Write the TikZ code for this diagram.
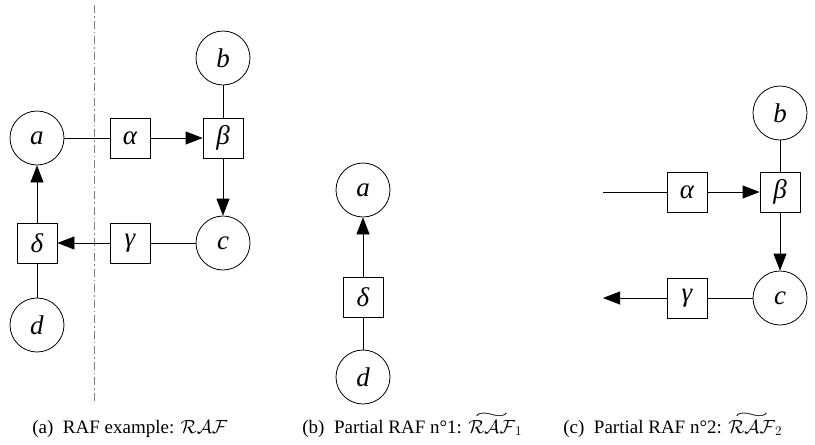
\RequirePackage{fix-cm}
\documentclass[tikz,border=0pt]{standalone}
\usepackage{fontspec}
\setmainfont{Liberation Serif}
\usetikzlibrary{arrows.meta}
\newcommand\widetil[1]{\mathord{\mathop{#1}\limits^{\raisebox{-0.45ex}{\scalebox{3.4}[1.1]{$\scriptstyle\sim$}}}}}
\begin{document}
\begin{tikzpicture}[x=1pt,y=-1pt,
  line width=0.8pt,
  spec/.style={circle,draw,minimum size=54pt,inner sep=0pt,font=\fontsize{27}{30}\selectfont\itshape},
  reac/.style={rectangle,draw,minimum size=40pt,inner sep=0pt,font=\fontsize{27}{30}\selectfont\itshape},
  link/.style={draw},
  arr/.style={draw,-{Triangle[length=17pt,width=13pt]}},
  captext/.style={anchor=base west,inner sep=0pt,font=\fontsize{19}{22}\selectfont},
  sepline/.style={draw=gray,line width=0.8pt,dash pattern=on 8pt off 3pt on 1.5pt off 3pt}]
\useasboundingbox (0,0) rectangle (815,445);
% separator
\coordinate (s1) at (94,5);
\coordinate (s2) at (94,403);
\draw[sepline] (s1) -- (s2);
% panel (a)
\node[spec] (a1) at (37,138) {a};
\node[spec] (b1) at (223,58) {b};
\node[spec] (c1) at (223,243) {c};
\node[spec] (d1) at (37,325) {d};
\node[reac] (al1) at (130,138) {α};
\node[reac] (be1) at (223,138) {β};
\node[reac] (ga1) at (130,243) {γ};
\node[reac] (de1) at (37,243) {δ};
\draw[link] (a1) -- (al1);
\draw[arr] (al1) -- (be1);
\draw[link] (b1) -- (be1);
\draw[arr] (be1) -- (c1);
\draw[link] (c1) -- (ga1);
\draw[arr] (ga1) -- (de1);
\draw[arr] (de1) -- (a1);
\draw[link] (d1) -- (de1);
% panel (b)
\node[spec] (a2) at (363,190) {a};
\node[reac] (de2) at (363,297) {δ};
\node[spec] (d2) at (363,377) {d};
\draw[arr] (de2) -- (a2);
\draw[link] (d2) -- (de2);
% panel (c)
\node[spec] (b3) at (780,113) {b};
\node[reac] (be3) at (780,192) {β};
\node[reac] (al3) at (687,192) {α};
\node[spec] (c3) at (780,298) {c};
\node[reac] (ga3) at (687,298) {γ};
\coordinate (in3) at (603,192);
\coordinate (out3) at (603,298);
\draw[link] (in3) -- (al3);
\draw[arr] (al3) -- (be3);
\draw[link] (b3) -- (be3);
\draw[arr] (be3) -- (c3);
\draw[link] (c3) -- (ga3);
\draw[arr] (ga3) -- (out3);
% captions
\node[captext] (capa) at (32,433) {(a)\enspace RAF example: $\mathcal{RAF}$};
\node[captext] (capb) at (302,433) {(b)\enspace Partial RAF n°1: $\widetil{\mathcal{RAF}}_1$};
\node[captext] (capc) at (563,433) {(c)\enspace Partial RAF n°2: $\widetil{\mathcal{RAF}}_2$};
\end{tikzpicture}
\end{document}
